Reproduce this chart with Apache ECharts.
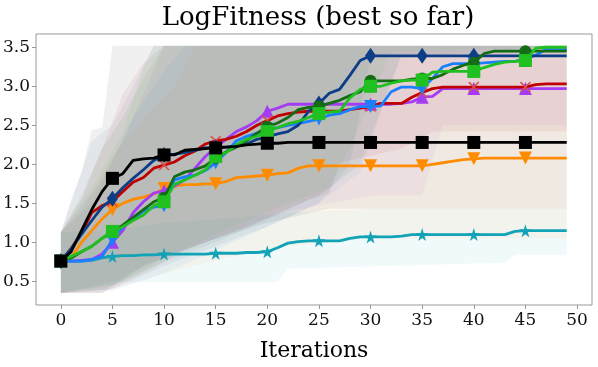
<!DOCTYPE html>
<html>
<head>
<meta charset="utf-8">
<script src="https://cdn.jsdelivr.net/npm/echarts@6/dist/echarts.min.js"></script>
<style>
  html, body { margin: 0; padding: 0; background: #fff; }
  #chart { width: 598px; height: 367px; }
</style>
</head>
<body>
<div id="chart"></div>
<script>
// iterations and tick labels
const iters = [0,1,2,3,4,5,6,7,8,9,10,11,12,13,14,15,16,17,18,19,20,21,22,23,24,
  25,26,27,28,29,30,31,32,33,34,35,36,37,38,39,40,41,42,43,44,45,46,47,48,49];
const xTicks = [0,5,10,15,20,25,30,35,40,45,50];
const yTicks = [0.5,1.0,1.5,2.0,2.5,3.0,3.5];

// mean curves (best so far)
const navy = [0.76,0.92,1.10,1.28,1.45,1.56,1.70,1.82,1.93,2.05,2.12,2.13,2.15,2.18,2.21,2.22,2.22,2.23,2.26,2.32,
  2.35,2.39,2.42,2.50,2.68,2.78,2.91,2.96,3.14,3.33,3.39,3.39,3.39,3.39,3.39,3.39,3.39,3.39,3.39,3.39,
  3.39,3.39,3.39,3.39,3.39,3.39,3.39,3.39,3.39,3.39];
const dkgreen = [0.76,0.80,0.88,0.95,1.05,1.14,1.22,1.32,1.42,1.52,1.57,1.84,1.90,1.93,1.98,2.08,2.16,2.22,2.30,2.40,
  2.48,2.53,2.60,2.70,2.73,2.74,2.78,2.82,2.88,2.93,3.07,3.07,3.07,3.07,3.09,3.10,3.10,3.15,3.22,3.27,
  3.30,3.42,3.45,3.45,3.45,3.45,3.45,3.45,3.45,3.45];
const green = [0.76,0.82,0.88,0.95,1.05,1.14,1.20,1.28,1.35,1.47,1.52,1.74,1.80,1.86,1.93,2.10,2.15,2.25,2.32,2.36,
  2.42,2.47,2.52,2.55,2.60,2.65,2.67,2.68,2.85,2.96,3.00,3.00,3.04,3.07,3.08,3.08,3.18,3.19,3.19,3.19,
  3.19,3.24,3.28,3.31,3.32,3.33,3.49,3.50,3.50,3.50];
const blue = [0.76,0.76,0.76,0.78,0.82,1.03,1.20,1.30,1.40,1.45,1.47,1.80,1.84,1.86,1.92,2.02,2.15,2.30,2.36,2.40,
  2.45,2.47,2.50,2.52,2.55,2.58,2.63,2.65,2.70,2.74,2.74,2.75,2.93,2.99,2.99,2.97,3.10,3.25,3.29,3.29,
  3.29,3.30,3.31,3.32,3.32,3.35,3.40,3.47,3.47,3.47];
const red = [0.76,0.92,1.12,1.38,1.47,1.52,1.65,1.77,1.83,1.95,1.99,2.03,2.11,2.17,2.26,2.30,2.32,2.36,2.42,2.50,
  2.56,2.62,2.65,2.67,2.68,2.68,2.68,2.68,2.70,2.72,2.74,2.78,2.78,2.78,2.86,2.92,2.97,2.99,2.99,2.99,
  2.99,2.99,2.99,2.99,2.99,2.99,3.02,3.03,3.03,3.03];
const purple = [0.76,0.76,0.77,0.78,0.85,1.00,1.15,1.38,1.52,1.63,1.66,1.72,1.80,1.95,2.10,2.22,2.32,2.42,2.48,2.56,
  2.68,2.72,2.77,2.77,2.77,2.77,2.77,2.77,2.77,2.77,2.77,2.77,2.77,2.78,2.80,2.86,2.87,2.97,2.97,2.97,
  2.97,2.97,2.97,2.97,2.97,2.97,2.97,2.97,2.97,2.97];
const black = [0.76,0.88,1.15,1.42,1.65,1.82,1.88,2.05,2.07,2.08,2.12,2.12,2.18,2.19,2.20,2.21,2.22,2.23,2.25,2.26,
  2.27,2.27,2.28,2.28,2.28,2.28,2.28,2.28,2.28,2.28,2.28,2.28,2.28,2.28,2.28,2.28,2.28,2.28,2.28,2.28,
  2.28,2.28,2.28,2.28,2.28,2.28,2.28,2.28,2.28,2.28];
const orange = [0.76,0.80,1.00,1.15,1.30,1.42,1.50,1.55,1.58,1.62,1.69,1.72,1.74,1.74,1.75,1.75,1.78,1.83,1.84,1.85,
  1.86,1.88,1.89,1.95,1.98,1.98,1.98,1.98,1.98,1.98,1.98,1.98,1.98,1.98,1.98,1.98,2.00,2.02,2.04,2.06,
  2.07,2.08,2.08,2.08,2.08,2.08,2.08,2.08,2.08,2.08];
const teal = [0.76,0.76,0.76,0.77,0.80,0.82,0.83,0.83,0.84,0.84,0.85,0.85,0.85,0.85,0.85,0.86,0.86,0.86,0.87,0.87,
  0.88,0.93,0.99,1.01,1.02,1.02,1.02,1.02,1.05,1.07,1.07,1.07,1.07,1.08,1.10,1.10,1.10,1.10,1.10,1.10,
  1.10,1.10,1.10,1.10,1.14,1.15,1.15,1.15,1.15,1.15];

// shaded ranges, breakpoints [iteration, value]
const navyHi = [[0,1.13],[1,1.5],[3,2.3],[5,2.5],[7,3.0],[9,3.52],[49,3.52]];
const navyLo = [[0,0.35],[5,0.4],[10,0.7],[15,0.95],[20,1.2],[25,1.5],[28,2.0],[30,3.38],[49,3.38]];
const dkgreenHi = [[0,1.13],[2,1.6],[4,2.2],[6,2.6],[8,3.1],[10,3.52],[49,3.52]];
const dkgreenLo = [[0,0.35],[5,0.45],[10,0.75],[15,1.0],[20,1.3],[25,1.6],[29,2.0],[33,3.4],[49,3.44]];
const greenHi = [[0,1.13],[3,1.7],[6,2.41],[8,3.23],[9,3.52],[49,3.52]];
const greenLo = [[0,0.35],[6,0.5],[10,0.8],[15,1.1],[20,1.4],[26,1.7],[28,2.2],[32,3.45],[49,3.5]];
const blueHi = [[0,1.13],[4,1.8],[7,2.6],[10,3.2],[12,3.52],[49,3.52]];
const blueLo = [[0,0.35],[5,0.38],[10,0.6],[15,0.9],[20,1.2],[25,1.5],[29,1.9],[33,3.4],[49,3.45]];
const redHi = [[0,1.13],[2,1.55],[4,2.2],[6,2.9],[8,3.3],[10,3.52],[49,3.52]];
const redLo = [[0,0.35],[4,0.35],[8,0.6],[12,0.9],[18,1.2],[24,1.55],[26,1.62],[27,2.02],[33,2.2],[36,2.42],[49,2.42]];
const purpleHi = [[0,1.13],[3,1.5],[6,2.3],[8,2.9],[10,3.52],[49,3.52]];
const purpleLo = [[0,0.35],[5,0.5],[10,0.8],[16,1.1],[22,1.4],[30,1.6],[35,1.6],[37,2.5],[49,2.5]];
const blackHi = [[0,1.13],[1,1.55],[2,1.9],[3,2.44],[4,2.47],[5,3.52],[49,3.52]];
const blackLo = [[0,0.35],[4,0.35],[8,0.7],[14,1.0],[20,1.25],[26,1.43],[49,1.43]];
const orangeHi = [[0,1.13],[2,1.4],[5,2.1],[8,2.6],[11,3.0],[13,3.52],[49,3.52]];
const orangeLo = [[0,0.35],[5,0.4],[10,0.6],[16,0.8],[22,0.95],[30,1.05],[49,1.05]];
const tealHi = [[0,1.13],[5,1.15],[10,1.25],[16,1.3],[22,1.38],[30,1.43],[49,1.43]];
const tealLo = [[0,0.35],[4,0.4],[6,0.49],[21,0.49],[22,0.66],[43,0.74],[44,0.84],[49,0.84]];

const STAR = 'path://M50,0L61,35L98,35L68,57L79,91L50,70L21,91L32,57L2,35L39,35Z';
const XMARK = 'path://M0,1L1,0L5,4L9,0L10,1L6,5L10,9L9,10L5,6L1,10L0,9L4,5Z';
const FONT = 'DejaVu Serif';

// drawing order: first is bottom
const curves = [
  { vals: teal,    lo: tealLo,    hi: tealHi,    color: '#12a3b6', symbol: STAR,       size: 13 },
  { vals: orange,  lo: orangeLo,  hi: orangeHi,  color: '#ff8c00', symbol: 'triangle', size: 13, rotate: 180 },
  { vals: purple,  lo: purpleLo,  hi: purpleHi,  color: '#a43cf5', symbol: 'triangle', size: 13 },
  { vals: red,     lo: redLo,     hi: redHi,     color: '#c00000', symbol: XMARK,      size: 11, markColor: '#d85050' },
  { vals: blue,    lo: blueLo,    hi: blueHi,    color: '#1a80ff', symbol: 'triangle', size: 13, rotate: 180 },
  { vals: navy,    lo: navyLo,    hi: navyHi,    color: '#0c3d86', symbol: 'diamond',  size: [11, 16] },
  { vals: dkgreen, lo: dkgreenLo, hi: dkgreenHi, color: '#146c14', symbol: 'circle',   size: 12 },
  { vals: green,   lo: greenLo,   hi: greenHi,   color: '#1fc01f', symbol: 'rect',     size: 13 },
  { vals: black,   lo: blackLo,   hi: blackHi,   color: '#000000', symbol: 'rect',     size: 13 }
];

function rgba(hex, a) {
  const n = parseInt(hex.slice(1), 16);
  return 'rgba(' + (n >> 16) + ',' + ((n >> 8) & 255) + ',' + (n & 255) + ',' + a + ')';
}

const series = [];
curves.forEach(function (c) {
  series.push({
    type: 'custom',
    silent: true,
    z: 1,
    data: [[0, 0]],
    renderItem: function (params, api) {
      const pts = c.hi.map(function (p) { return api.coord(p); })
        .concat(c.lo.slice().reverse().map(function (p) { return api.coord(p); }));
      return { type: 'polygon', shape: { points: pts }, style: { fill: rgba(c.color, 0.06) } };
    }
  });
});
curves.forEach(function (c, k) {
  series.push({
    type: 'line',
    z: 10 + k,
    data: c.vals.map(function (v, i) { return [iters[i], v]; }),
    lineStyle: { color: c.color, width: 2.8 },
    itemStyle: { color: c.markColor || c.color, opacity: 1 },
    symbol: c.symbol,
    symbolRotate: c.rotate || 0,
    showAllSymbol: true,
    symbolSize: function (v, p) { return p.dataIndex % 5 === 0 ? c.size : 0; }
  });
});

const chart = echarts.init(document.getElementById('chart'), null, { renderer: 'canvas' });
chart.setOption({
  animation: false,
  backgroundColor: '#fff',
  title: {
    text: 'LogFitness (best so far)',
    left: 313,
    top: 0,
    textAlign: 'center',
    textStyle: { fontFamily: FONT, fontSize: 26, fontWeight: 'normal', color: '#000' }
  },
  grid: { left: 34, right: 6, top: 34, bottom: 47, show: true, borderColor: '#999', borderWidth: 1 },
  xAxis: {
    type: 'value',
    min: -2.4,
    max: 51.45,
    name: 'Iterations',
    nameLocation: 'middle',
    nameGap: 35,
    nameTextStyle: { fontFamily: FONT, fontSize: 22, color: '#000' },
    axisLine: { show: false, onZero: false },
    splitLine: { show: false },
    axisTick: { show: true, length: 4, lineStyle: { color: '#999' }, customValues: xTicks },
    axisLabel: { fontFamily: FONT, fontSize: 17, color: '#111', margin: 7, customValues: xTicks }
  },
  yAxis: {
    type: 'value',
    min: 0.197,
    max: 3.67,
    axisLine: { show: false, onZero: false },
    splitLine: { show: false },
    axisTick: { show: true, length: 4, lineStyle: { color: '#999' }, customValues: yTicks },
    axisLabel: {
      fontFamily: FONT, fontSize: 17, color: '#111', margin: 6, customValues: yTicks,
      formatter: function (v) { return v.toFixed(1); }
    }
  },
  series: series
});
</script>
</body>
</html>
